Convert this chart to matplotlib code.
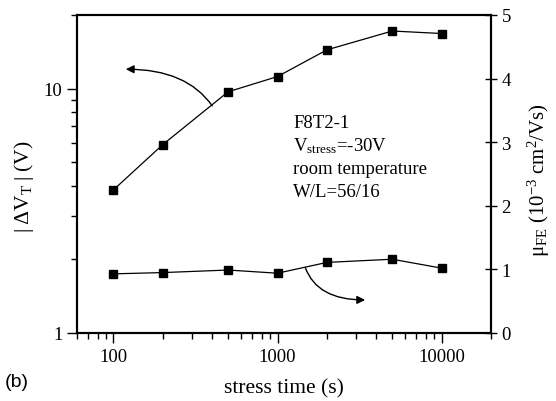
import matplotlib
matplotlib.use("Agg")
import matplotlib.pyplot as plt
from matplotlib.ticker import LogLocator, NullFormatter, FixedLocator

plt.rcParams['font.family'] = ['Liberation Serif', 'DejaVu Serif']
plt.rcParams['mathtext.fontset'] = 'custom'
plt.rcParams['mathtext.rm'] = 'Liberation Serif'
plt.rcParams['mathtext.it'] = 'Liberation Serif:italic'

# stress time (s)
stress_time = [100, 200, 500, 1000, 2000, 5000, 10000]
# threshold voltage shift |dVT| (V), left axis
dvt = [3.85, 5.9, 9.7, 11.2, 14.4, 17.2, 16.8]
# field-effect mobility (1e-3 cm^2/Vs), right axis
mobility = [0.93, 0.95, 0.99, 0.94, 1.11, 1.16, 1.02]

fig = plt.figure(figsize=(5.56, 4.02), dpi=100)
ax = fig.add_axes([77/556, 68/402, 414/556, 318/402])
ax2 = ax.twinx()

ax.plot(stress_time, dvt, color='black', lw=0.9, marker='s', ms=6)
ax2.plot(stress_time, mobility, color='black', lw=0.9, marker='s', ms=6)

ax.set_xscale('log')
ax.set_yscale('log')
ax.set_xlim(60, 20000)
ax.set_ylim(1, 20)
ax2.set_ylim(0, 5)

ax.set_xticks([100, 1000, 10000])
ax.set_xticklabels(['100', '1000', '10000'])
ax.xaxis.set_minor_locator(LogLocator(base=10, subs=range(2, 10)))
ax.xaxis.set_minor_formatter(NullFormatter())
ax.set_yticks([1, 10])
ax.set_yticklabels(['1', '10'])
ax.yaxis.set_minor_locator(LogLocator(base=10, subs=range(2, 10)))
ax.yaxis.set_minor_formatter(NullFormatter())
ax2.yaxis.set_major_locator(FixedLocator([0, 1, 2, 3, 4, 5]))

ax.tick_params(which='major', direction='out', length=7, width=1, labelsize=13.5, top=False, right=False)
ax.tick_params(which='minor', direction='out', length=4, width=1, top=False, right=False)
ax2.tick_params(axis='y', which='major', direction='inout', length=8, width=1, labelsize=13.5)
for a in (ax, ax2):
    for s in a.spines.values():
        s.set_linewidth(1.5)

ax.set_xlabel('stress time (s)', fontsize=15.5, labelpad=10)
ax.set_ylabel(r'$|\;\Delta\mathrm{V}_{\mathrm{T}}\;|$ (V)', fontsize=15.5)
ax.yaxis.set_label_coords(-0.1, 0.465)
ax2.set_ylabel(r'μ$_{\mathrm{FE}}$ (10$^{-3}$ cm$^{2}$/Vs)', fontsize=15)
ax2.yaxis.set_label_coords(1.085, 0.485)

# curved arrows pointing at each axis
ax.annotate('', xy=(119, 12), xytext=(400, 8.5),
            arrowprops=dict(arrowstyle='-|>', color='black', lw=1, mutation_scale=12,
                            shrinkA=0, shrinkB=0,
                            connectionstyle='angle3,angleA=125,angleB=0'))
ax2.annotate('', xy=(3420, 0.52), xytext=(1476, 1.03),
             arrowprops=dict(arrowstyle='-|>', color='black', lw=1, mutation_scale=12,
                             shrinkA=0, shrinkB=0,
                             connectionstyle='angle3,angleA=-70,angleB=0'))

info = ['F8T2-1', r'V$_{\mathrm{stress}}$=-30V', 'room temperature', 'W/L=56/16']
for i, line in enumerate(info):
    ax.text(0.522, 0.663 - i * 0.073, line, transform=ax.transAxes,
            fontsize=13.5, va='center', ha='left')

fig.text(5/556, 1 - 383/402, '(b)', fontsize=14, family='Liberation Sans', va='center')

fig.savefig('out.png', dpi=100)
